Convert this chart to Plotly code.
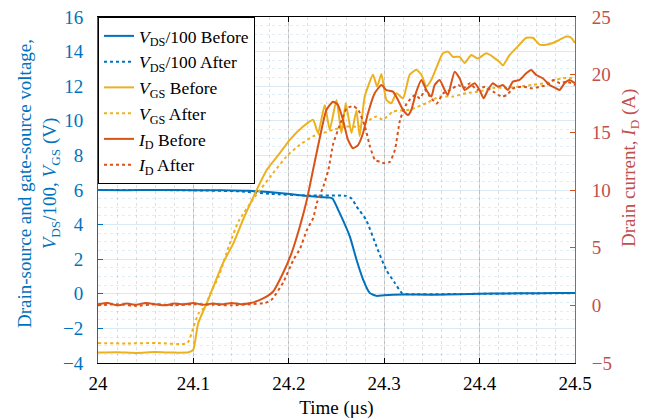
import plotly.graph_objects as go

# ---------------- data (time in microseconds) ----------------
t_vds_before = [24.0, 24.03, 24.06, 24.10, 24.13, 24.159, 24.19, 24.212, 24.227, 24.243, 24.246,
                24.2534, 24.264, 24.271, 24.278, 24.285, 24.292, 24.30, 24.32, 24.35, 24.38,
                24.40, 24.43, 24.45, 24.48, 24.5]
vds_before = [6.0, 5.99, 6.0, 5.99, 5.98, 5.95, 5.82, 5.7, 5.62, 5.56, 5.5,
              4.66, 3.31, 1.97, 0.81, 0.04, -0.12, -0.08, -0.04, -0.05, -0.02,
              0.0, 0.02, 0.03, 0.04, 0.05]

t_vds_after = [24.0, 24.05, 24.10, 24.15, 24.18, 24.22, 24.26, 24.266, 24.271, 24.281,
               24.292, 24.302, 24.311, 24.319, 24.33, 24.36, 24.4, 24.45, 24.5]
vds_after = [6.0, 6.0, 5.98, 5.92, 5.78, 5.68, 5.66, 5.5, 5.05, 4.28,
             2.73, 1.39, 0.64, 0.02, -0.03, -0.02, 0.0, 0.02, 0.04]

t_vgs_before = [24.0, 24.02, 24.04, 24.06, 24.08, 24.095, 24.0998, 24.105, 24.114, 24.121,
                24.131, 24.142, 24.152, 24.163, 24.177, 24.1906, 24.2010, 24.215, 24.2254,
                24.2307, 24.2377, 24.2429, 24.25, 24.2552, 24.2597, 24.2657, 24.2709, 24.2743,
                24.2796, 24.2883, 24.2925, 24.2971, 24.3023, 24.3075, 24.3128, 24.3197,
                24.3267, 24.3337, 24.339, 24.3442, 24.3494, 24.3581, 24.3616, 24.3668,
                24.372, 24.379, 24.3843, 24.3913, 24.3982, 24.407, 24.4139, 24.4209,
                24.4244, 24.4314, 24.4401, 24.4489, 24.4558, 24.4628, 24.4698, 24.4768,
                24.4838, 24.4908, 24.496, 24.5]
vgs_before = [-3.4, -3.38, -3.42, -3.37, -3.4, -3.38, -3.24, -1.7, -0.54, 0.42,
              1.77, 2.93, 4.28, 5.62, 7.17, 8.13, 8.9, 9.67, 10.06,
              9.29, 10.92, 9.48, 11.2, 9.29, 11.02, 9.29, 10.6, 9.1,
              11.4, 12.66, 11.98, 12.7, 11.2, 11.02, 11.6, 11.3,
              12.66, 12.95, 12.66, 11.98, 12.37, 13.53, 13.91, 14.0,
              13.7, 13.7, 13.34, 13.8, 13.6, 13.9, 13.7, 13.4,
              13.2, 13.8, 14.3, 14.8, 14.8, 14.4, 14.4, 14.5,
              14.68, 14.87, 14.8, 14.5]

t_vgs_after = [24.0, 24.03, 24.06, 24.0935, 24.1003, 24.1055, 24.1126, 24.1178, 24.1265,
               24.137, 24.1474, 24.163, 24.1836, 24.1976, 24.2115, 24.2254, 24.2359,
               24.2464, 24.2604, 24.2743, 24.2848, 24.2918, 24.2987, 24.3092, 24.3267,
               24.3442, 24.3581, 24.372, 24.3861, 24.4, 24.4139, 24.428, 24.4419,
               24.4558, 24.4698, 24.4803, 24.4872, 24.5]
vgs_after = [-2.85, -2.87, -2.84, -2.85, -1.89, -1.12, -0.73, 0.04, 1.0,
             2.73, 4.2, 5.5, 6.98, 7.94, 8.61, 9.1, 9.29,
             9.48, 9.67, 9.67, 10.06, 10.25, 10.06, 10.54, 10.64,
             11.02, 11.4, 11.4, 11.6, 11.7, 11.9, 11.9, 11.98,
             12.08, 12.18, 12.37, 12.47, 12.47]

t_id_before = [24.0, 24.01, 24.02, 24.03, 24.04, 24.05, 24.06, 24.07, 24.08, 24.09, 24.10,
               24.11, 24.12, 24.13, 24.14, 24.15, 24.16, 24.1731, 24.1836, 24.194, 24.2028,
               24.2115, 24.2185, 24.2254, 24.2342, 24.2394, 24.2464, 24.2516, 24.2568,
               24.2621, 24.2673, 24.2726, 24.2778, 24.283, 24.29, 24.2971, 24.3023,
               24.3092, 24.3145, 24.3197, 24.3249, 24.3284, 24.3337, 24.339, 24.3442,
               24.3494, 24.3529, 24.3581, 24.3634, 24.3668, 24.3738, 24.379, 24.3843,
               24.3895, 24.3948, 24.4, 24.4042, 24.4087, 24.4139, 24.4192, 24.4244,
               24.4296, 24.4349, 24.4419, 24.4489, 24.4541, 24.4594, 24.4663, 24.4733,
               24.4803, 24.4838, 24.489, 24.4942, 24.5]
id_before = [0.1, 0.2, 0.0, 0.15, 0.05, 0.2, 0.1, 0.0, 0.15, 0.1, 0.2,
             0.05, 0.15, 0.1, 0.2, 0.1, 0.2, 0.6, 1.2, 2.8, 4.51,
             6.82, 9.0, 11.73, 15.2, 16.94, 17.66, 17.37, 16.07,
             14.34, 13.62, 13.9, 14.92, 16.65, 18.39, 19.1, 18.67,
             18.53, 17.8, 16.94, 16.5, 16.94, 18.53, 19.54, 18.67,
             18.1, 19.1, 19.54, 18.67, 18.24, 20.26, 19.69, 18.67,
             18.96, 19.25, 18.67, 17.95, 18.67, 19.25, 18.96, 19.1,
             18.67, 19.4, 19.54, 20.12, 20.4, 19.97, 19.69, 19.1,
             18.82, 18.67, 19.25, 19.54, 19.25]

t_id_after = [24.0, 24.02, 24.04, 24.06, 24.08, 24.10, 24.12, 24.14, 24.16, 24.175,
              24.1821, 24.1942, 24.2047, 24.2117, 24.2188, 24.2257, 24.2293, 24.2362,
              24.2414, 24.2467, 24.2555, 24.2607, 24.2676, 24.2729, 24.2799, 24.2851,
              24.2904, 24.2956, 24.3008, 24.3061, 24.3113, 24.3166, 24.3236, 24.3323,
              24.3375, 24.3428, 24.348, 24.355, 24.362, 24.369, 24.3777, 24.383, 24.39,
              24.397, 24.4057, 24.4144, 24.4232, 24.4285, 24.4354, 24.4459, 24.4547,
              24.4634, 24.4704, 24.4774, 24.4843, 24.4913, 24.5]
id_after = [0.0, 0.1, -0.05, 0.1, 0.0, 0.1, 0.05, 0.0, 0.1, 0.2,
            0.5, 2.0, 3.93, 4.9, 6.5, 7.6, 8.85, 10.3,
            11.73, 14.05, 16.07, 17.08, 17.28, 16.94, 15.49, 13.76,
            12.6, 12.45, 12.31, 12.45, 13.5, 16.07, 17.5, 18.24,
            17.95, 18.67, 18.1, 17.5, 18.39, 18.67, 19.1, 18.82, 19.25,
            18.67, 18.96, 18.53, 18.1, 18.24, 18.82, 18.96, 18.82,
            18.96, 19.1, 19.54, 19.25, 19.4, 19.1]

x_ticks = [24, 24.1, 24.2, 24.3, 24.4, 24.5]
x_tick_labels = ["24", "24.1", "24.2", "24.3", "24.4", "24.5"]

left_title = ("Drain-source and gate-source voltage,<br>"
              "<i>V</i><sub>DS</sub>/100, <i>V</i><sub>GS</sub> (V)")
right_title = "Drain current, <i>I</i><sub>D</sub> (A)"
x_title = "Time (\u03bcs)"

BLUE = "#0072BD"
YELLOW = "#EDB120"
ORANGE = "#D95319"
RED_TXT = "#C0504D"
FONT = "Liberation Serif"
FS = 19

fig = go.Figure()
lw = 2
def line(color, dash=None):
    d = dict(color=color, width=lw, shape="spline", smoothing=0.5)
    if dash:
        d["dash"] = dash
    return d

fig.add_trace(go.Scatter(x=t_vds_before, y=vds_before, mode="lines", line=line(BLUE),
                         name="<i>V</i><sub>DS</sub>/100 Before"))
fig.add_trace(go.Scatter(x=t_vds_after, y=vds_after, mode="lines", line=line(BLUE, "dot"),
                         name="<i>V</i><sub>DS</sub>/100 After"))
fig.add_trace(go.Scatter(x=t_vgs_before, y=vgs_before, mode="lines", line=line(YELLOW),
                         name="<i>V</i><sub>GS</sub> Before"))
fig.add_trace(go.Scatter(x=t_vgs_after, y=vgs_after, mode="lines", line=line(YELLOW, "dot"),
                         name="<i>V</i><sub>GS</sub> After"))
fig.add_trace(go.Scatter(x=t_id_before, y=id_before, mode="lines", yaxis="y2",
                         line=line(ORANGE), name="<i>I</i><sub>D</sub> Before"))
fig.add_trace(go.Scatter(x=t_id_after, y=id_after, mode="lines", yaxis="y2",
                         line=line(ORANGE, "dot"), name="<i>I</i><sub>D</sub> After"))

fig.update_layout(
    width=647, height=420,
    margin=dict(l=98, r=72, t=17, b=57, autoexpand=False),
    paper_bgcolor="white", plot_bgcolor="white",
    font=dict(family=FONT, size=FS, color="black"),
    showlegend=True,
    legend=dict(x=0, y=1, xanchor="left", yanchor="top",
                bgcolor="white", bordercolor="black", borderwidth=1,
                font=dict(family=FONT, size=17.5, color="black"),
                tracegroupgap=0),
    xaxis=dict(range=[24, 24.5], tickvals=x_ticks, ticktext=x_tick_labels,
               showline=True, linecolor="black", linewidth=1, mirror="ticks",
               ticks="inside", ticklen=5, tickcolor="black",
               showgrid=True, gridcolor="rgba(0,0,0,0.15)", gridwidth=1,
               minor=dict(dtick=0.02, showgrid=True, griddash="dot",
                          gridcolor="rgba(0,0,0,0.12)", ticks=""),
               zeroline=False, ticklabelstandoff=3, automargin=False,
               title=dict(text=x_title, standoff=7,
                          font=dict(family=FONT, size=FS, color="black")),
               tickfont=dict(family=FONT, size=FS, color="black")),
    yaxis=dict(range=[-4, 16], dtick=2, tick0=0,
               showline=True, linecolor=BLUE, linewidth=1,
               ticks="inside", ticklen=5, tickcolor=BLUE,
               showgrid=True, gridcolor="rgba(0,114,189,0.15)", gridwidth=1,
               minor=dict(dtick=0.5, showgrid=True, griddash="dot",
                          gridcolor="rgba(0,114,189,0.12)", ticks=""),
               zeroline=False, ticklabelstandoff=10, automargin=False,
               tickfont=dict(family=FONT, size=FS, color=BLUE)),
    yaxis2=dict(range=[-5, 25], dtick=5, tick0=0, overlaying="y", side="right",
                showline=True, linecolor=ORANGE, linewidth=1,
                ticks="inside", ticklen=5, tickcolor=ORANGE,
                showgrid=False, zeroline=False, ticklabelstandoff=12, automargin=False,
                tickfont=dict(family=FONT, size=FS, color=RED_TXT)),
    annotations=[
        dict(text=left_title, xref="paper", yref="paper", x=-0.1258, y=0.52,
             xanchor="center", yanchor="middle", textangle=-90, showarrow=False,
             font=dict(family=FONT, size=FS, color=BLUE)),
        dict(text=right_title, xref="paper", yref="paper", x=1.1153, y=0.5636,
             xanchor="center", yanchor="middle", textangle=-90, showarrow=False,
             font=dict(family=FONT, size=FS, color=RED_TXT)),
    ],
)

fig.write_html("out.html")
